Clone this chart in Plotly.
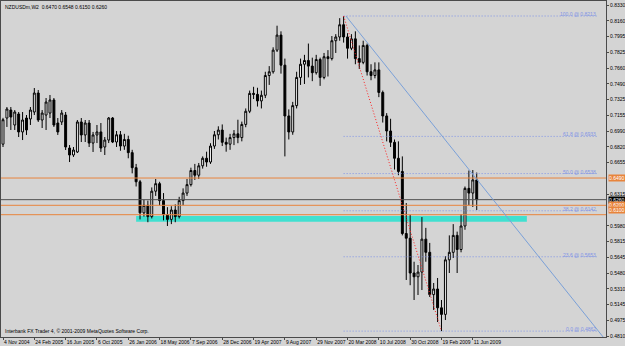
import plotly.graph_objects as go

# ---- data (NZDUSDm, 2-week bars starting 4 Nov 2004) ----
opens = [0.6850,0.7128,0.7213,0.7054,0.7171,0.6980,0.7128,0.7118,0.7192,0.7394,
         0.7107,0.7160,0.7181,0.7320,0.7075,0.7086,0.7160,0.6809,0.6735,0.6767,
         0.7086,0.6948,0.7075,0.6862,0.6948,0.6980,0.6820,0.6894,0.7128,0.6873,
         0.6950,0.6830,0.6900,0.6760,0.6600,0.6450,0.6120,0.6200,0.6080,0.6350,
         0.6430,0.6250,0.6100,0.6050,0.6150,0.6080,0.6250,0.6330,0.6420,0.6570,
         0.6520,0.6620,0.6700,0.6660,0.6830,0.6950,0.7000,0.6870,0.6850,0.6920,
         0.6960,0.6920,0.7060,0.7200,0.7390,0.7380,0.7310,0.7370,0.7580,0.7620,
         0.7850,0.8010,0.7690,0.7150,0.6980,0.7260,0.7560,0.7700,0.7740,0.7680,
         0.7610,0.7750,0.7560,0.7780,0.7760,0.7950,0.7990,0.8120,0.7990,0.7870,
         0.7970,0.7760,0.7720,0.7900,0.7620,0.7580,0.7640,0.7400,0.7150,0.6990,
         0.6870,0.6700,0.6560,0.5900,0.5850,0.5480,0.5440,0.5490,0.5840,0.5700,
         0.5250,0.5310,0.5110,0.5040,0.5620,0.5700,0.5880,0.5730,0.5980,0.6380,
         0.6330,0.6470]
highs = [0.7130,0.7245,0.7245,0.7213,0.7192,0.7192,0.7160,0.7245,0.7447,0.7426,
         0.7213,0.7341,0.7373,0.7341,0.7128,0.7213,0.7192,0.6841,0.6820,0.7107,
         0.7128,0.7107,0.7107,0.6980,0.7054,0.7075,0.6926,0.7139,0.7139,0.6990,
         0.6990,0.6960,0.6940,0.6790,0.6640,0.6470,0.6260,0.6250,0.6390,0.6480,
         0.6450,0.6330,0.6180,0.6190,0.6210,0.6290,0.6380,0.6480,0.6600,0.6640,
         0.6650,0.6720,0.6770,0.6860,0.6990,0.7040,0.7060,0.6920,0.6960,0.7000,
         0.7110,0.7090,0.7230,0.7420,0.7460,0.7450,0.7420,0.7620,0.7680,0.7880,
         0.8110,0.8050,0.7760,0.7220,0.7300,0.7620,0.7760,0.7800,0.7920,0.7770,
         0.7800,0.7770,0.7820,0.7850,0.8000,0.8020,0.8190,0.8213,0.8030,0.8020,
         0.8050,0.7900,0.7950,0.7920,0.7700,0.7720,0.7720,0.7420,0.7180,0.7120,
         0.6900,0.6880,0.6720,0.6224,0.6100,0.5600,0.5565,0.6075,0.5960,0.5800,
         0.5374,0.5427,0.5193,0.5660,0.5880,0.6000,0.5920,0.6107,0.6400,0.6570,
         0.6575,0.6548]
lows = [0.6820,0.7033,0.7001,0.7001,0.6926,0.6894,0.6948,0.7054,0.7160,0.7086,
        0.7022,0.7001,0.7128,0.7033,0.6948,0.7054,0.6788,0.6660,0.6714,0.6756,
        0.6873,0.6873,0.6820,0.6767,0.6862,0.6767,0.6735,0.6862,0.6862,0.6820,
        0.6780,0.6790,0.6700,0.6540,0.6400,0.6050,0.6080,0.6020,0.6060,0.6300,
        0.6200,0.6040,0.5980,0.6000,0.6020,0.6060,0.6200,0.6300,0.6400,0.6470,
        0.6480,0.6590,0.6610,0.6640,0.6800,0.6900,0.6830,0.6770,0.6790,0.6840,
        0.6860,0.6880,0.7030,0.7180,0.7330,0.7250,0.7230,0.7340,0.7480,0.7600,
        0.7830,0.7600,0.6720,0.6900,0.6950,0.7230,0.7480,0.7490,0.7560,0.7520,
        0.7590,0.7470,0.7540,0.7570,0.7740,0.7820,0.7950,0.7930,0.7760,0.7850,
        0.7700,0.7650,0.7700,0.7580,0.7530,0.7550,0.7350,0.7080,0.6880,0.6820,
        0.6580,0.6520,0.5880,0.5406,0.5350,0.5193,0.5246,0.5299,0.5600,0.5225,
        0.5087,0.4959,0.4862,0.4980,0.5480,0.5640,0.5480,0.5700,0.5940,0.6200,
        0.6182,0.6150]
closes = [0.7110,0.7224,0.7139,0.7192,0.6980,0.7107,0.7001,0.7213,0.7394,0.7107,
          0.7181,0.7298,0.7320,0.7054,0.6980,0.7181,0.6820,0.6735,0.6788,0.7086,
          0.6948,0.7075,0.6862,0.6948,0.6980,0.6809,0.6894,0.7128,0.6873,0.6950,
          0.6830,0.6900,0.6760,0.6600,0.6450,0.6120,0.6200,0.6080,0.6350,0.6430,
          0.6250,0.6100,0.6050,0.6150,0.6080,0.6250,0.6330,0.6420,0.6570,0.6520,
          0.6620,0.6700,0.6660,0.6830,0.6950,0.7000,0.6870,0.6850,0.6920,0.6960,
          0.6920,0.7060,0.7200,0.7390,0.7380,0.7310,0.7370,0.7580,0.7620,0.7850,
          0.8010,0.7690,0.7150,0.6980,0.7260,0.7560,0.7700,0.7740,0.7680,0.7610,
          0.7750,0.7560,0.7780,0.7760,0.7950,0.7990,0.8120,0.7990,0.7870,0.7970,
          0.7760,0.7720,0.7900,0.7620,0.7580,0.7640,0.7400,0.7150,0.6990,0.6870,
          0.6700,0.6560,0.5900,0.5850,0.5480,0.5440,0.5490,0.5840,0.5700,0.5250,
          0.5310,0.5110,0.5040,0.5620,0.5700,0.5880,0.5730,0.5980,0.6380,0.6330,
          0.6470,0.6260]

date_labels = ["4 Nov 2004", "24 Feb 2005", "16 Jun 2005", "6 Oct 2005", "26 Jan 2006",
               "18 May 2006", "7 Sep 2006", "28 Dec 2006", "19 Apr 2007", "9 Aug 2007",
               "29 Nov 2007", "20 Mar 2008", "10 Jul 2008", "30 Oct 2008", "19 Feb 2009",
               "11 Jun 2009"]
label_step = 8  # bars between date labels

price_ticks = [0.8330, 0.8160, 0.7995, 0.7825, 0.7660, 0.7490, 0.7325, 0.7155, 0.6990,
               0.6820, 0.6655, 0.6315, 0.5980, 0.5815, 0.5645, 0.5480, 0.5310, 0.5145,
               0.4975, 0.4810]

fib_high = 0.8213
fib_low = 0.4862
fib_high_bar = 87
fib_low_bar = 112
fib_levels = [100.0, 61.8, 50.0, 38.2, 23.6, 0.0]

orange_levels = [0.6490, 0.6200, 0.6100]
bid_price = 0.6260
zone_low, zone_high = 0.6025, 0.6085
zone_start_bar, zone_end_bar = 34, 133.8
trend_start = (87.6, 0.8213)
trend_end = (153.3, 0.4799)

title_text = "NZDUSDm,W2  0.6470 0.6548 0.6150 0.6260"
copyright_text = "Interbank FX Trader 4, \u00a9 2001-2009 MetaQuotes Software Corp."

# ---- figure ----
BG = "#D4D4D4"
FG = "#4A4A4A"
FIB = "#7F93E6"
ORANGE = "#E8843C"
FONT = "Liberation Sans, Arial, sans-serif"

bars = list(range(len(opens)))
fig = go.Figure()
fig.add_trace(go.Candlestick(
    x=bars, open=opens, high=highs, low=lows, close=closes,
    increasing=dict(line=dict(color="#000000", width=1), fillcolor="#FFFFFF"),
    decreasing=dict(line=dict(color="#000000", width=1), fillcolor="#000000"),
    whiskerwidth=0, hoverinfo="skip", showlegend=False,
))

shapes = []
# support zone
shapes.append(dict(type="rect", xref="x", yref="y", x0=zone_start_bar, x1=zone_end_bar,
                   y0=zone_low, y1=zone_high, fillcolor="#40E0D0", line=dict(width=0),
                   layer="below"))
# horizontal lines
for lv in orange_levels:
    shapes.append(dict(type="line", xref="paper", yref="y", x0=0, x1=1, y0=lv, y1=lv,
                       line=dict(color=ORANGE, width=1)))
shapes.append(dict(type="line", xref="paper", yref="y", x0=0, x1=1, y0=bid_price, y1=bid_price,
                   line=dict(color="#505050", width=1)))
# fibonacci levels
fib_end_bar = 152.0
annotations = []
for lvl in fib_levels:
    price = fib_low + (fib_high - fib_low) * lvl / 100.0
    shapes.append(dict(type="line", xref="x", yref="y", x0=fib_high_bar, x1=fib_end_bar,
                       y0=price, y1=price, line=dict(color=FIB, width=1, dash="1px,2px")))
    annotations.append(dict(xref="x", yref="y", x=fib_end_bar, y=price, xanchor="right",
                            yanchor="bottom", yshift=-3, showarrow=False,
                            text=f"{lvl:.1f} @ {price:.4f}",
                            font=dict(family=FONT, size=5, color=FIB)))
# fib base line (red dotted)
shapes.append(dict(type="line", xref="x", yref="y", x0=fib_high_bar, x1=fib_low_bar,
                   y0=fib_high, y1=fib_low, line=dict(color="#FF2020", width=1, dash="1px,2px")))
# trend line
shapes.append(dict(type="line", xref="x", yref="y", x0=trend_start[0], x1=trend_end[0],
                   y0=trend_start[1], y1=trend_end[1], line=dict(color="#7AA0D8", width=1)))

# price labels on the axis
axis_labels = [(orange_levels[0], ORANGE, 0), (bid_price, "#000000", 0),
               (orange_levels[1], ORANGE, 0), (orange_levels[2], ORANGE, 5)]
for price, col, shift in axis_labels:
    annotations.append(dict(xref="paper", yref="y", x=1, y=price, xanchor="left",
                            yanchor="middle", xshift=2, yshift=shift, showarrow=False,
                            text=f"{price:.4f}", bgcolor=col, borderpad=0,
                            font=dict(family=FONT, size=5, color="#FFFFFF")))

annotations.append(dict(xref="paper", yref="paper", x=0, y=1, xanchor="left", yanchor="top",
                        xshift=2, yshift=-1, showarrow=False, text=title_text,
                        font=dict(family=FONT, size=5, color="#000000")))
annotations.append(dict(xref="paper", yref="paper", x=0, y=0, xanchor="left", yanchor="bottom",
                        xshift=2, yshift=1, showarrow=False, text=copyright_text,
                        font=dict(family=FONT, size=5, color="#000000")))

tick_bars = [i * label_step for i in range(len(date_labels))]

fig.update_layout(
    width=625, height=346,
    margin=dict(l=1, r=19, t=1, b=9, pad=0),
    paper_bgcolor=BG, plot_bgcolor=BG,
    shapes=shapes, annotations=annotations,
    showlegend=False,
    xaxis=dict(range=[-0.511, 154.02], rangeslider=dict(visible=False), showgrid=False,
               zeroline=False, showline=True, linecolor=FG, linewidth=1, mirror=True,
               tickmode="array", tickvals=tick_bars, ticktext=date_labels, tickangle=0,
               ticks="outside", ticklen=2, tickcolor=FG, ticklabelposition="outside right",
               tickfont=dict(family=FONT, size=5, color="#000000"), automargin=False,
               fixedrange=True),
    yaxis=dict(range=[0.47995, 0.83725], side="right", showgrid=False, zeroline=False,
               showline=True, linecolor=FG, linewidth=1, mirror=True,
               tickmode="array", tickvals=price_ticks, ticktext=[f"{v:.4f}" for v in price_ticks],
               ticks="outside", ticklen=2, tickcolor=FG,
               tickfont=dict(family=FONT, size=5, color="#000000"), automargin=False,
               fixedrange=True),
)

fig.write_html("out.html", config={"displayModeBar": False})
